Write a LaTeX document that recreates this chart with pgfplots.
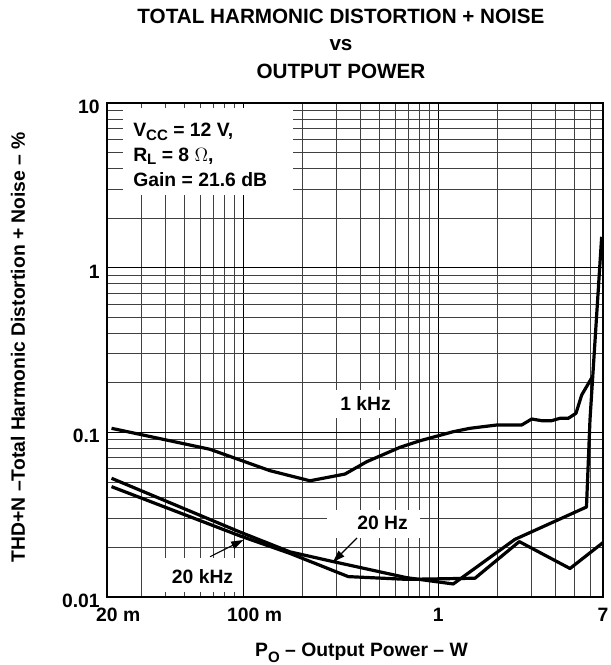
\documentclass[border=0pt]{standalone}
\usepackage{pgfplots}
\pgfplotsset{compat=1.18}
\usetikzlibrary{arrows.meta}
\usepackage{fontspec}
\setmainfont{Liberation Sans}

\newcommand\sub[2][2.5pt]{\raisebox{-#1}{\fontsize{11.3}{12}\selectfont #2}}

\begin{document}
\fontsize{14.5}{17}\selectfont\bfseries
\begin{tikzpicture}
\useasboundingbox (-80.25pt,-51pt) rectangle (378pt,447.75pt);
\begin{axis}[
    at={(0,0)}, anchor=south west,
    scale only axis, width=372pt, height=370.5pt,
    xmode=log, ymode=log,
    xmin=0.02, xmax=7,
    ymin=0.01, ymax=10,
    xtick={0.02,0.1,1,7},
    xticklabels={20\rlap{\ m},100\rlap{\ m},1,7},
    minor xtick={0.03,0.04,0.05,0.06,0.07,0.08,0.09,0.2,0.3,0.4,0.5,0.6,0.7,0.8,0.9,2,3,4,5,6},
    ytick={0.01,0.1,1,10},
    yticklabels={0.01,0.1,1,10},
    minor ytick={0.02,0.03,0.04,0.05,0.06,0.07,0.08,0.09,0.2,0.3,0.4,0.5,0.6,0.7,0.8,0.9,2,3,4,5,6,7,8,9},
    grid=both,
    major grid style={black, line width=0.9pt},
    minor grid style={black!75, line width=0.6pt},
    major tick length=0pt, minor tick length=0pt,
    axis line style={line width=1.9pt},
    xticklabel style={anchor=base, yshift=-18pt},
    yticklabel style={anchor=east, inner sep=0pt, xshift=-5.25pt, yshift=-3pt},
    /pgf/number format/assume math mode=true,
    curve/.style={black, line width=2.4pt, line join=round, mark=none},
]
  % 1 kHz
  \addplot[curve] coordinates {
    (0.0211,0.1058)(0.0675,0.0789)(0.1371,0.0585)(0.2198,0.0508)(0.3324,0.0558)
    (0.4295,0.0663)(0.6365,0.0811)(0.806,0.0889)(1.194,0.1009)(1.455,0.1058)
    (1.994,0.1108)(2.679,0.1108)(3.016,0.1205)(3.394,0.1177)(3.818,0.1177)
    (4.21,0.1217)(4.645,0.1217)(5.087,0.1305)(5.442,0.1685)(6.204,0.2198)
  };
  % 20 Hz
  \addplot[curve] coordinates {
    (0.0211,0.0526)(0.0962,0.0248)(0.1736,0.0188)(0.2894,0.0164)(0.689,0.0131)
    (1.194,0.0120)(2.475,0.0224)(5.759,0.0352)(6.002,0.1189)(6.89,1.54)
  };
  % 20 kHz
  \addplot[curve] coordinates {
    (0.0211,0.0468)(0.0962,0.0235)(0.1736,0.0184)(0.3455,0.0133)(0.689,0.0128)
    (1.543,0.0130)(2.604,0.0217)(4.74,0.0149)(7,0.0214)
  };
\end{axis}

% title
\begin{scope}[every node/.style={font=\fontsize{15.5}{18}\selectfont\bfseries, anchor=base}]
\node at (175.5pt,430.3pt) {TOTAL HARMONIC DISTORTION + NOISE};
\node at (175.5pt,409.6pt) {vs};
\node at (175.5pt,389pt) {OUTPUT POWER};
\end{scope}

% axis labels
\node[anchor=base] at (190.9pt,-44.8pt) {P\sub[4pt]{O} -- Output Power -- W};
\node[anchor=base, rotate=90] at (-61.5pt,187.5pt) {THD+N --Total Harmonic Distortion + Noise -- \%};

% conditions box
\fill[white] (11.8pt,301.5pt) rectangle (139.7pt,366.5pt);
\node[anchor=base west, inner sep=0pt] at (19.5pt,345.2pt) {V\sub{CC} = 12 V,};
\node[anchor=base west, inner sep=0pt] at (19.5pt,326.5pt) {R\sub{L} = 8 $\Omega$,};
\node[anchor=base west, inner sep=0pt] at (19.5pt,307.7pt) {Gain = 21.6 dB};

% curve labels
\fill[white] (156pt,134.25pt) rectangle (219.75pt,155.25pt);
\node[anchor=base west, inner sep=0pt] at (174.75pt,139.7pt) {1 kHz};

\fill[white] (164.8pt,44.25pt) rectangle (234.75pt,65.25pt);
\node[anchor=base west, inner sep=0pt] at (187.5pt,50.25pt) {20 Hz};
\draw[line width=0.8pt, -{Triangle[length=9pt,width=6pt]}] (187.5pt,44.25pt) -- (169.5pt,26.25pt);

\fill[white] (41pt,4pt) rectangle (99.75pt,29.25pt);
\node[anchor=base west, inner sep=0pt] at (48.5pt,10.3pt) {20 kHz};
\draw[line width=0.8pt, -{Triangle[length=9pt,width=6pt]}] (77.25pt,30.2pt) -- (102.2pt,42.75pt);
\end{tikzpicture}
\end{document}
